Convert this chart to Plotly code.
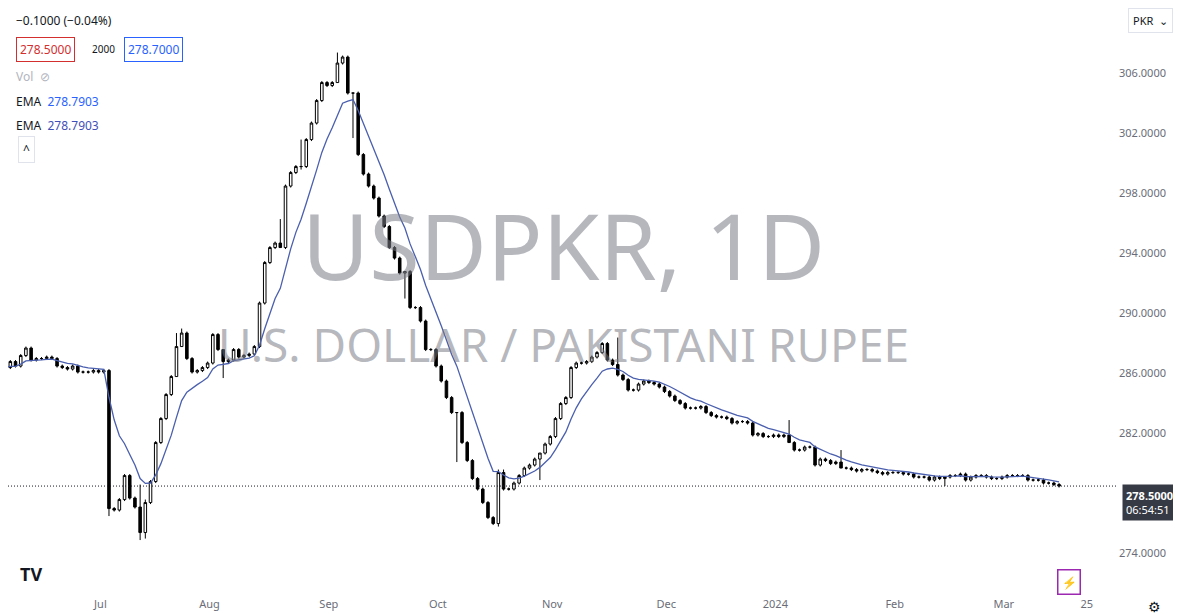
import pandas as pd
import plotly.graph_objects as go

# daily closes USD/PKR (Jun 2023 - Mar 2024)
closes = [
    286.4, 286.8, 286.5, 287.2, 287.7, 286.9, 287.0, 287.0, 287.1, 287.0,
    286.5, 286.4, 286.3, 286.5, 286.1, 286.1, 286.1, 286.2, 286.1, 286.2,
    277.0, 276.9, 277.6, 279.2, 277.7, 277.1, 275.4, 277.4, 278.8, 281.4,
    283.0, 284.6, 285.8, 287.8, 288.7, 287.0, 286.1, 286.2, 286.4, 286.7,
    288.6, 287.6, 286.8, 286.9, 287.6, 287.1, 287.2, 287.3, 287.8, 290.7,
    293.4, 294.4, 294.7, 294.4, 298.5, 299.4, 299.8, 299.8, 301.6, 302.7,
    304.2, 305.4, 305.2, 305.4, 306.7, 307.1, 304.7, 304.7, 300.6, 299.3,
    298.5, 297.7, 296.5, 295.8, 294.4, 293.7, 292.7, 292.8, 290.4, 290.4,
    289.5, 287.6, 287.6, 286.5, 285.5, 284.4, 283.4, 283.4, 281.4, 280.2,
    279.0, 278.3, 277.4, 276.4, 276.0, 279.4, 278.3, 278.3, 278.7, 279.2,
    279.7, 279.9, 280.3, 280.7, 281.3, 281.8, 283.0, 284.0, 284.4, 286.4,
    286.7, 286.7, 286.8, 287.1, 287.4, 288.0, 286.9, 286.6, 285.9, 285.6,
    284.9, 284.9, 285.3, 285.5, 285.4, 285.3, 285.1, 284.8, 284.5, 284.2,
    284.0, 283.7, 283.7, 283.7, 283.8, 283.4, 283.2, 283.1, 283.1, 283.0,
    282.7, 282.8, 282.8, 282.7, 281.9, 282.0, 281.8, 281.8, 281.9, 281.8,
    281.9, 281.4, 280.9, 280.9, 281.1, 281.1, 279.9, 280.3, 280.2, 280.0,
    280.1, 279.7, 279.7, 279.6, 279.5, 279.6, 279.6, 279.5, 279.4, 279.3,
    279.4, 279.4, 279.4, 279.3, 279.3, 279.1, 279.1, 279.1, 278.9, 279.1,
    279.0, 279.1, 279.2, 279.2, 279.3, 278.9, 279.1, 279.2, 279.2, 279.1,
    279.0, 279.0, 279.1, 279.2, 279.2, 279.2, 279.2, 278.9, 278.9, 278.9,
    278.7, 278.7, 278.6, 278.5,
]
first_open = 286.2
# extra wick ends (index -> (high, low)) where wicks stick out clearly
wicks = {20: (286.3, 276.5), 26: (278.6, 274.9), 27: (277.6, 275.0), 33: (288.7, 287.8),
         34: (289.0, 288.5), 42: (286.8, 285.7), 53: (296.3, 294.4), 57: (301.6, 299.6),
         64: (307.4, 305.4), 67: (304.7, 301.7), 77: (292.8, 291.0), 87: (283.4, 280.1),
         95: (279.6, 275.8), 96: (279.6, 278.2), 103: (280.7, 278.9), 118: (288.4, 285.8),
         151: (282.9, 281.8), 161: (280.9, 279.7), 181: (279.1, 278.5)}
ema_len = 9
y_ticks = [274, 282, 286, 290, 294, 298, 302, 306]   # 278 sits under the price label

dates = pd.bdate_range("2023-06-05", periods=len(closes))
opens = [first_open] + closes[:-1]
highs, lows = [], []
for i, (o, c) in enumerate(zip(opens, closes)):
    h, l = wicks.get(i, (max(o, c) + 0.1, min(o, c) - 0.1))
    highs.append(max(h, o, c)); lows.append(min(l, o, c))
ema = pd.Series(closes).ewm(span=ema_len, adjust=False).mean()
idx = list(range(len(closes)))

# month ticks from the calendar (extended into the future for the "25" tick)
cal = pd.bdate_range("2023-06-05", "2024-03-29")
tick_labels = ["Jul", "Aug", "Sep", "Oct", "Nov", "Dec", "2024", "Feb", "Mar", "25"]
tick_dates = ["2023-07-03", "2023-08-01", "2023-09-01", "2023-10-02", "2023-11-01",
              "2023-12-01", "2024-01-01", "2024-02-01", "2024-03-01", "2024-03-25"]
tick_vals = [cal.get_loc(pd.Timestamp(d)) - 1.65 for d in tick_dates]

fig = go.Figure()
fig.add_trace(go.Candlestick(x=idx, open=opens, high=highs, low=lows, close=closes,
    increasing=dict(fillcolor="white", line=dict(color="black", width=1)),
    decreasing=dict(fillcolor="black", line=dict(color="black", width=1)),
    whiskerwidth=0, hoverinfo="skip"))
fig.add_trace(go.Scatter(x=idx, y=ema, mode="lines", line=dict(color="#4a5fae", width=1.3),
                         hoverinfo="skip"))
last = closes[-1]
fig.add_shape(type="line", xref="paper", x0=0, x1=1, y0=last, y1=last,
              line=dict(color="#131722", width=1, dash="1px,2px"))

gray = "#131722"
ann = [
    dict(text="USDPKR, 1D", x=0.5, y=0.707, font=dict(size=92, color="rgba(120,123,134,0.55)")),
    dict(text="U.S. DOLLAR / PAKISTANI RUPEE", x=0.5, y=0.429, font=dict(size=46, color="rgba(120,123,134,0.55)")),
]
for a in ann:
    a.update(xref="paper", yref="paper", showarrow=False, font_family="Noto Sans")
ann += [
    dict(text="−0.1000 (−0.04%)", x=6, y=13, font=dict(size=12, color=gray)),
    dict(text="278.5000", x=8, y=41, font=dict(size=12, color="#d32f2f"),
         bordercolor="#d32f2f", borderwidth=1, borderpad=3),
    dict(text="2000", x=82, y=41, font=dict(size=10, color=gray)),
    dict(text="278.7000", x=116, y=41, font=dict(size=12, color="#2962ff"),
         bordercolor="#2962ff", borderwidth=1, borderpad=3),
    dict(text="Vol  ⊘", x=6, y=69, font=dict(size=12, color="#b2b5be")),
    dict(text="EMA  <span style='color:#2962ff'>278.7903</span>", x=6, y=93, font=dict(size=12, color=gray)),
    dict(text="EMA  <span style='color:#3f4fb8'>278.7903</span>", x=6, y=117, font=dict(size=12, color=gray)),
    dict(text="^", x=10, y=141, font=dict(size=12, color=gray), bordercolor="#e0e3eb",
         borderwidth=1, borderpad=4),
    dict(text="PKR  ⌄", x=1120, y=13, font=dict(size=11, color=gray), bordercolor="#e0e3eb",
         borderwidth=1, borderpad=4),
    dict(text="<b>278.5000</b><br>06:54:51", x=1114, y=494, font=dict(size=11, color="white"),
         bgcolor="#363a45", borderpad=3, align="left", width=58),
    dict(text="<b>TV</b>", x=10, y=566, font=dict(size=18, color="#131722")),
    dict(text="⚡", x=1049, y=574, font=dict(size=12, color="#9c27b0"), bordercolor="#9c27b0",
         borderwidth=1.5, borderpad=3),
    dict(text="⚙", x=1138, y=598, font=dict(size=14, color=gray)),
]
for a in ann[2:]:
    a.update(xref="paper", yref="paper", showarrow=False, xanchor="left", yanchor="middle")
    a["x"] = a["x"] / 1110
    a["y"] = 1 - a["y"] / 588

fig.update_layout(width=1181, height=614, margin=dict(l=0, r=71, t=0, b=26),
    paper_bgcolor="white", plot_bgcolor="white", showlegend=False,
    font=dict(family="Noto Sans", size=11, color=gray), annotations=ann,
    xaxis=dict(range=[0.55, 214.35], rangeslider=dict(visible=False), showgrid=False, zeroline=False,
               tickvals=tick_vals, ticktext=tick_labels, ticks="", tickfont=dict(size=11, color="#6a6d78")),
    yaxis=dict(side="right", range=[271.17, 310.37], tickvals=y_ticks, tickformat=".4f",
               showgrid=False, zeroline=False, ticks="", tickfont=dict(size=11, color="#6a6d78")))

fig.write_html("out.html")
